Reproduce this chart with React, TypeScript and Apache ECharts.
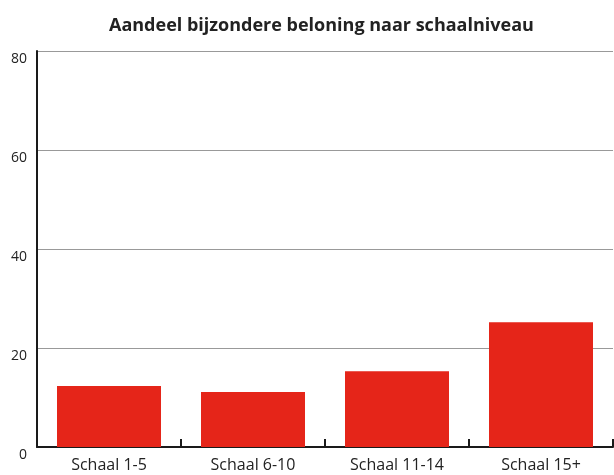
import React, { useEffect, useRef } from "react";
import * as echarts from "echarts";

const title = "Aandeel bijzondere beloning naar schaalniveau";
const categories = ["Schaal 1-5", "Schaal 6-10", "Schaal 11-14", "Schaal 15+"];
const values = [12.3, 11.1, 15.3, 25.2];
const yTicks = { min: 0, max: 80, interval: 20 };

export default function App() {
  const ref = useRef<HTMLDivElement>(null);
  useEffect(() => {
    if (!ref.current) return;
    const chart = echarts.init(ref.current, undefined, { renderer: "svg" });
    chart.setOption({
      animation: false,
      title: {
        text: title,
        left: 104,
        top: 10,
        textStyle: { fontFamily: "Open Sans", fontWeight: "bold", fontSize: 18, color: "#222" },
      },
      grid: { left: 37, right: 1, top: 51, bottom: 28, containLabel: false },
      xAxis: {
        type: "category",
        data: categories,
        axisLine: { show: true, lineStyle: { color: "#1a1a1a", width: 2 } },
        axisTick: { show: true, inside: true, length: 8, lineStyle: { color: "#1a1a1a", width: 2 } },
        axisLabel: { margin: 9, fontFamily: "Open Sans", fontSize: 16, lineHeight: 16, color: "#222" },
      },
      yAxis: {
        type: "value",
        min: yTicks.min,
        max: yTicks.max,
        interval: yTicks.interval,
        axisLine: { show: true, lineStyle: { color: "#1a1a1a", width: 2 } },
        axisTick: { show: false },
        splitLine: { show: true, lineStyle: { color: "#999", width: 1 } },
        axisLabel: { margin: 10, fontFamily: "Open Sans", fontSize: 14, color: "#222", verticalAlign: "top", padding: [-1, 0, 0, 0] },
      },
      series: [
        {
          type: "bar",
          data: values,
          barWidth: 104,
          itemStyle: { color: "#e52519" },
        },
      ],
    });
    return () => chart.dispose();
  }, []);
  return <div ref={ref} style={{ position: "fixed", left: 0, top: 0, width: 614, height: 475 }} />;
}
